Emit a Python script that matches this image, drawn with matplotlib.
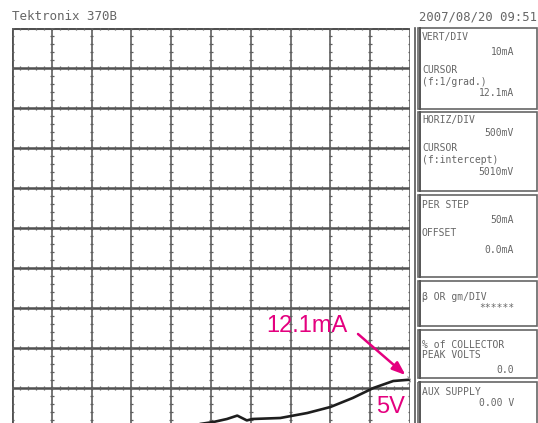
import matplotlib
matplotlib.use("Agg")
import matplotlib.pyplot as plt
from matplotlib.collections import LineCollection
from matplotlib.patches import Rectangle

# ---------------- data ----------------
volts = [2.36, 2.53, 2.70, 2.83, 2.95, 3.02, 3.37, 3.71, 4.00, 4.28, 4.54, 4.79, 5.01]
milliamps = [1.0, 1.5, 2.25, 3.1, 1.9, 2.25, 2.5, 3.75, 5.25, 7.5, 10.0, 11.75, 12.1]
cursor_v = 5.01
cursor_ma = 12.1
x_div = 0.5      # V per division
y_div = 10.0     # mA per division
n_div = 10

header_left = "Tektronix 370B"
header_right = "2007/08/20 09:51"
ann_current = "12.1mA"
ann_voltage = "5V"

panels = [
    [("VERT/DIV", "l"), ("10mA", "r"), ("CURSOR", "l"), ("(f:1/grad.)", "l"), ("12.1mA", "r")],
    [("HORIZ/DIV", "l"), ("500mV", "r"), ("CURSOR", "l"), ("(f:intercept)", "l"), ("5010mV", "r")],
    [("PER STEP", "l"), ("50mA", "r"), ("OFFSET", "l"), ("0.0mA", "r")],
    [("β OR gm/DIV", "l"), ("******", "r")],
    [("% of COLLECTOR", "l"), ("PEAK VOLTS", "l"), ("0.0", "r")],
    [("AUX SUPPLY", "l"), ("0.00 V", "r")],
]

# ---------------- layout (pixels) ----------------
W, H = 538, 423
fig = plt.figure(figsize=(W / 100, H / 100), dpi=100)
fig.patch.set_facecolor("white")

ax_left, ax_right, ax_top, ax_bot = 12, 410, 28, 428
ax = fig.add_axes([ax_left / W, (H - ax_bot) / H, (ax_right - ax_left) / W, (ax_bot - ax_top) / H])
xmax = x_div * n_div
ymax = y_div * n_div
ax.set_xlim(0, xmax)
ax.set_ylim(0, ymax)
ax.set_xticks([])
ax.set_yticks([])
for s in ax.spines.values():
    s.set_visible(False)

grid_col = "#505050"
# major lines
for i in range(n_div + 1):
    ax.axvline(i * x_div, color=grid_col, lw=1.1, zorder=1)
    ax.axhline(i * y_div, color=grid_col, lw=1.8, zorder=1)
ax.axvline(0, color=grid_col, lw=2.0, zorder=1)
ax.axhline(ymax, color=grid_col, lw=2.2, zorder=1)

# graticule subdivision marks
segs = []
tx = x_div * 0.045
ty = y_div * 0.045
for i in range(n_div + 1):
    for j in range(n_div * 5 + 1):
        y = j * y_div / 5
        segs.append([(i * x_div - tx, y), (i * x_div + tx, y)])
        x = j * x_div / 5
        segs.append([(x, i * y_div - ty), (x, i * y_div + ty)])
ax.add_collection(LineCollection(segs, colors="#606060", linewidths=0.9, zorder=1))

# trace
ax.plot(volts, milliamps, color="#1e1e1e", lw=1.9, zorder=3, solid_capstyle="round")
ax.plot([cursor_v], [cursor_ma], marker="x", color="#999999", ms=6, mew=0.8, zorder=4)

# ---------------- overlay in pixel coordinates ----------------
ov = fig.add_axes([0, 0, 1, 1], facecolor="none")
ov.set_xlim(0, W)
ov.set_ylim(H, 0)
ov.axis("off")

txt_col = "#666666"
mono = "DejaVu Sans Mono"
ov.text(12, 17, header_left, fontsize=9, family=mono, color=txt_col, va="center", ha="left")
ov.text(537, 17, header_right, fontsize=8.8, family=mono, color=txt_col, va="center", ha="right")

# panel frame
ov.plot([415, 415], [28, 430], color="#555555", lw=1.2)
box_tops = [28, 112, 195, 281, 330, 382]
box_bots = [109, 191, 277, 326, 378, 430]
line_gap = [[37, 52, 70, 82, 93], [120, 133, 148, 160, 172], [205, 220, 233, 250],
             [297, 308], [345, 355, 370], [392, 403]]
for p, (t, b) in enumerate(zip(box_tops, box_bots)):
    ov.add_patch(Rectangle((418, t), 119, b - t, fill=False, ec="#666666", lw=1.2))
    ov.plot([419.5, 419.5], [t, b], color="#555555", lw=1.4)
    for (label, align), yy in zip(panels[p], line_gap[p]):
        if align == "l":
            ov.text(422, yy, label, fontsize=7, family=mono, color=txt_col, va="center", ha="left")
        else:
            ov.text(514, yy, label, fontsize=7, family=mono, color=txt_col, va="center", ha="right")

# annotations
mag = "#e4007f"
ov.text(307, 326, ann_current, fontsize=17, family="Liberation Sans", color=mag,
        ha="center", va="center")
ov.text(391, 407, ann_voltage, fontsize=17, family="Liberation Sans", color=mag,
        ha="center", va="center")
ov.annotate("", xy=(cursor_v, cursor_ma), xycoords=ax.transData,
            xytext=(358, 334), textcoords="data",
            arrowprops=dict(arrowstyle="-|>,head_length=0.8,head_width=0.3", color=mag, lw=1.8,
                            shrinkA=0, shrinkB=5))

fig.savefig("out.png", dpi=100)
